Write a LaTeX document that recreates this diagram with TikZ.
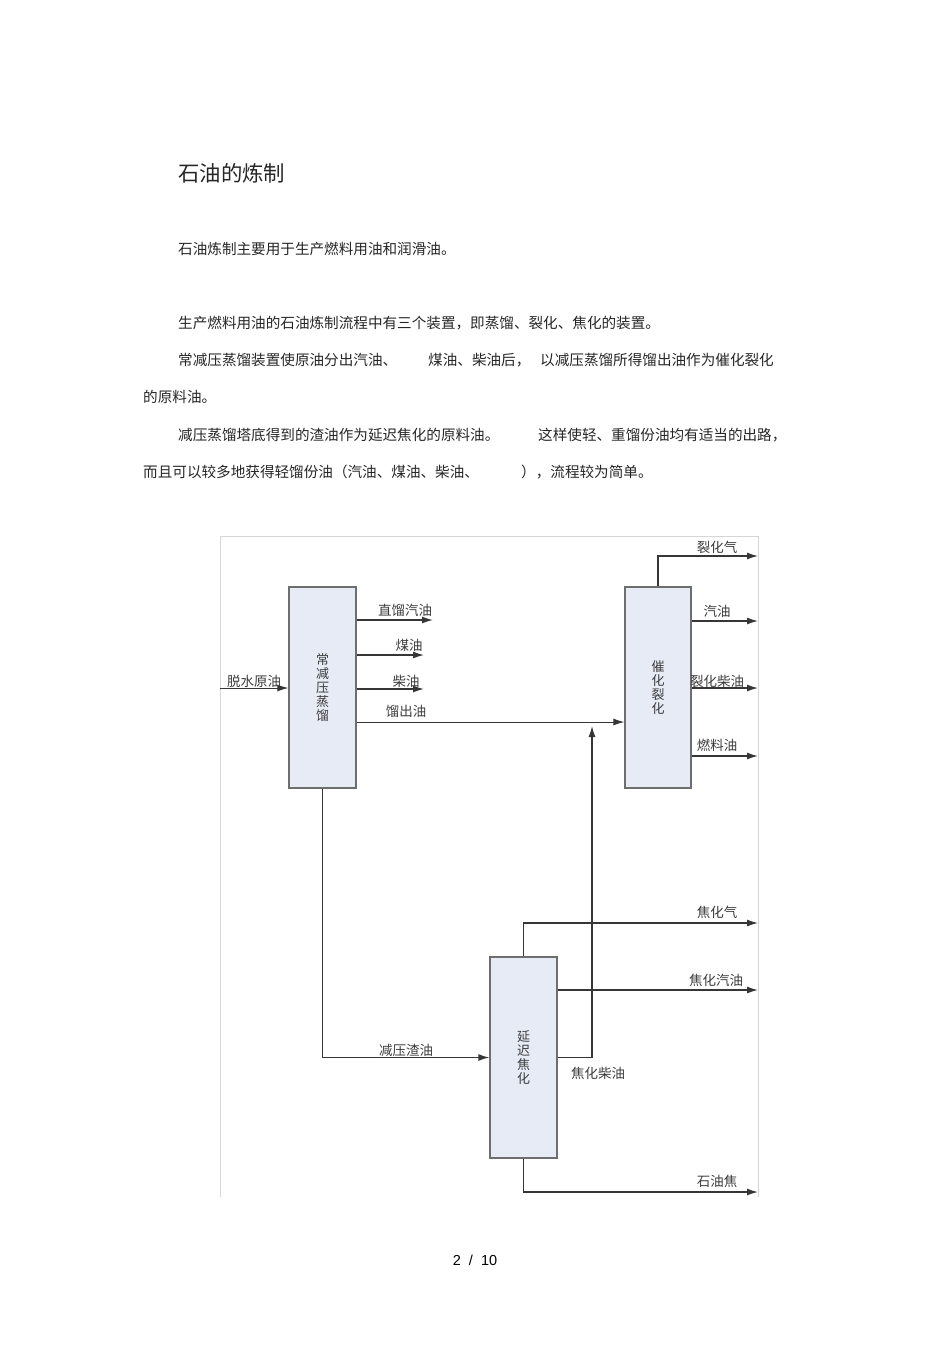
\documentclass[tikz,border=0pt]{standalone}
\usepackage{fontspec}
\newfontfamily\cjk{Noto Sans CJK SC}
\newfontfamily\pagefont{Liberation Sans}
\usetikzlibrary{arrows.meta,positioning}
\definecolor{boxfill}{HTML}{E6EBF6}
\definecolor{boxline}{HTML}{6E6E6E}
\definecolor{flowline}{HTML}{363636}
\definecolor{framegray}{HTML}{D6D6D6}
\definecolor{labelgray}{HTML}{3C3C3C}

\begin{document}
\begin{tikzpicture}[x=1pt,y=-1pt,on grid,
  unit/.style={draw=boxline,line width=1.3pt,fill=boxfill,minimum width=67pt,minimum height=201pt,inner sep=0pt,align=center,text=labelgray,font=\cjk\fontsize{13}{14.2}\selectfont},
  flow/.style={draw=flowline,line width=1.3pt,-{Latex[length=11pt,width=7pt]}},
  thinflow/.style={flow,line width=0.9pt},
  frame/.style={draw=framegray,line width=0.9pt},
  lbl/.style={inner sep=0pt,text=labelgray,font=\cjk\fontsize{13.5}{13.5}\selectfont},
  para/.style={anchor=west,inner sep=0pt,text=black!85,font=\cjk\fontsize{14.6}{14.6}\selectfont}]
\useasboundingbox (0,0) rectangle (950,1345);

% text above the figure
\node[para,font=\cjk\fontsize{21.4}{21.4}\selectfont] (title) at (178,173) {石油的炼制};
\node[para] (p1) at (178,249) {石油炼制主要用于生产燃料用油和润滑油。};
\node[para] (p2) at (178,323) {生产燃料用油的石油炼制流程中有三个装置，即蒸馏、裂化、焦化的装置。};
\node[para] (p3a) at (178,360) {常减压蒸馏装置使原油分出汽油、};
\node[para] (p3b) at (428,360) {煤油、柴油后，};
\node[para] (p3c) at (540,360) {以减压蒸馏所得馏出油作为催化裂化};
\node[para] (p4) at (143,397) {的原料油。};
\node[para] (p5a) at (178,435) {减压蒸馏塔底得到的渣油作为延迟焦化的原料油。};
\node[para] (p5b) at (538,435) {这样使轻、重馏份油均有适当的出路，};
\node[para] (p6a) at (143,472) {而且可以较多地获得轻馏份油（汽油、煤油、柴油、};
\node[para] (p6b) at (521,472) {），流程较为简单。};

% frame
\draw[frame] (220,1197) -- (220,536) -- (758,536) -- (758,1197);

% units
\node[unit] (atm) at (322.5,687.5) {常\\减\\压\\蒸\\馏};
\node[unit,minimum width=66pt] (cat) [right=335.5pt of atm] {催\\化\\裂\\化};
\node[unit] (coker) at (523.5,1057.5) {延\\迟\\焦\\化};

% free ends
\coordinate (feed) at (220,688);
\coordinate (sr) at (433,620);
\coordinate (kero) at (424,655);
\coordinate (dies) at (424,689);
\coordinate (merge) at (592,726);
\coordinate (fgas) at (758,556);
\coordinate (fgaso) at (758,621);
\coordinate (fdies) at (758,688);
\coordinate (fuel) at (758,756);
\coordinate (cgas) at (758,923);
\coordinate (cgaso) at (758,990);
\coordinate (coke) at (758,1192);

% distillation
\draw[thinflow] (feed) -- (atm.west |- feed);
\draw[flow] (atm.east |- sr) -- (sr);
\draw[flow] (atm.east |- kero) -- (kero);
\draw[flow] (atm.east |- dies) -- (dies);
\draw[thinflow] (atm.east |- 0,722) -- (cat.west |- 0,722);
\draw[flow] (atm.south) |- (coker.west);

% cracking
\draw[flow] (cat.north) |- (fgas);
\draw[flow] (cat.east |- fgaso) -- (fgaso);
\draw[flow] (cat.east |- fdies) -- (fdies);
\draw[flow] (cat.east |- fuel) -- (fuel);

% coking
\draw[flow] (coker.north) |- (cgas);
\draw[flow] (coker.east |- cgaso) -- (cgaso);
\draw[flow] (coker.east) -| (merge);
\draw[flow] (coker.south) |- (coke);

% labels
\node[lbl] (l-feed) at (254,681) {脱水原油};
\node[lbl] (l-sr) at (405,610) {直馏汽油};
\node[lbl] (l-kero) at (409,645) {煤油};
\node[lbl] (l-dies) at (406,681) {柴油};
\node[lbl] (l-dist) at (406,711) {馏出油};
\node[lbl] (l-res) at (406,1050) {减压渣油};
\node[lbl] (l-cdies) at (598,1073) {焦化柴油};
\node[lbl] (l-fgas) at (717,547) {裂化气};
\node[lbl] (l-fgaso) at (717,611) {汽油};
\node[lbl] (l-fdies) at (717,681) {裂化柴油};
\node[lbl] (l-fuel) at (717,745) {燃料油};
\node[lbl] (l-cgas) at (717,912) {焦化气};
\node[lbl] (l-cgaso) at (716,980) {焦化汽油};
\node[lbl] (l-coke) at (717,1181) {石油焦};

% page number
\node[inner sep=0pt,font=\pagefont\fontsize{14.5}{14.5}\selectfont] (page) at (475,1260) {2\ \ /\ \ 10};
\end{tikzpicture}
\end{document}
